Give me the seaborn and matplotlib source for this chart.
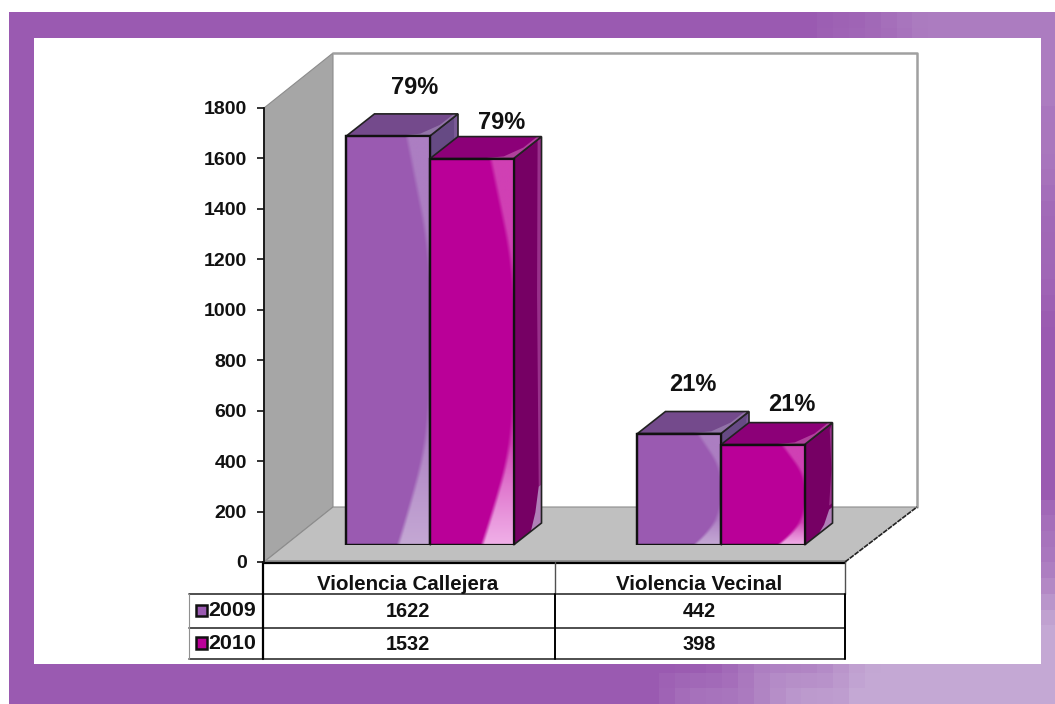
import numpy as np
import pandas as pd
import matplotlib
matplotlib.use('Agg')
import matplotlib.pyplot as plt
from matplotlib.colors import to_rgb
from matplotlib.patches import Polygon, Rectangle
import seaborn as sns

# Data
categories = ['Violencia Callejera', 'Violencia Vecinal']
years = ['2009', '2010']
values_2009 = [1622, 442]
values_2010 = [1532, 398]
percent_2009 = ['79%', '21%']
percent_2010 = ['79%', '21%']
y_ticks = [0, 200, 400, 600, 800, 1000, 1200, 1400, 1600, 1800]

W, H = 1055, 704
PURPLE = '#9A5AB1'
MAGENTA = '#BA0098'
palette = {'2009': PURPLE, '2010': MAGENTA}
# per series: top face, top highlight, side face, side strip, side tip, swoosh top, swoosh bottom
shades = {
    '2009': ('#744A8C', '#9273A8', '#664A84', '#7A5A96', '#9A80B0', '#AC7EC2', '#C4A8D4'),
    '2010': ('#8C0078', '#B0409C', '#760064', '#98308A', '#B080B8', '#D040B4', '#F0B0E8'),
}

sns.set_theme(style='white')
plt.rcParams['font.family'] = ['Liberation Sans', 'DejaVu Sans']
plt.rcParams['font.weight'] = 'bold'


def px_axes(left, top, right, bottom, **kw):
    return fig.add_axes([left / W, 1 - bottom / H, (right - left) / W, (bottom - top) / H], **kw)


fig = plt.figure(figsize=(W / 100, H / 100), dpi=100, facecolor='white')

# Backdrop in pixel coordinates
bg = px_axes(0, 0, W, H)
bg.set_xlim(0, W)
bg.set_ylim(H, 0)
bg.axis('off')

# Pixelated slide frame
xs = np.arange(9, W, 16) + 8.0
ys = np.arange(12, H, 16) + 8.0
gx, gy = np.meshgrid(xs, ys)
w_top = np.clip((gx - 820) / 120, 0, 1) * np.clip((350 - gy) / 250, 0, 1)
w_bot = np.clip((gx - 700 + np.clip(gy - 664, 0, 40) * 1.2) / 210, 0, 1) * np.clip((gy - 500) / 150, 0, 1)
jitter = np.sin(gx * 12.9 + gy * 78.2) * 0.07
w_top = np.where((w_top > 0) & (w_top < 1), np.clip(w_top + jitter, 0, 1), w_top)
w_bot = np.where((w_bot > 0) & (w_bot < 1), np.clip(w_bot + jitter, 0, 1), w_bot)
base = np.array(to_rgb(PURPLE))
frame = base + w_top[..., None] * (np.array(to_rgb('#AC7CC0')) - base)
frame = frame + w_bot[..., None] * (np.array(to_rgb('#C4A8D4')) - frame)
bg.imshow(frame, extent=(9, W, H, 12), aspect='auto', interpolation='nearest', zorder=0)
bg.set_xlim(0, W)
bg.set_ylim(H, 0)
bg.add_patch(Rectangle((34, 38), 1007, 626, facecolor='white', edgecolor='none', zorder=1))

# Walls and floor
bg.add_patch(Polygon([(264, 108), (333, 53), (333, 507), (264, 562)], facecolor='#A6A6A6', edgecolor='#8C8C8C', lw=0.8, zorder=2))
bg.add_patch(Polygon([(264, 562), (333, 507), (917, 507), (845, 562)], facecolor='#C0C0C0', edgecolor='none', zorder=2))
bg.plot([333, 917, 917], [53, 53, 507], color='#A0A0A0', lw=1.8, zorder=2)
bg.plot([264, 333, 917], [562, 507, 507], color='#8C8C8C', lw=0.8, zorder=2)
bg.plot([264, 845], [560.5, 560.5], color='#8C8C8C', lw=2, zorder=3)
bg.plot([845, 917], [562, 507], color='#222222', lw=1.2, ls=(0, (3, 0.6)), zorder=3)

# Table under the chart
col_edges = [263, 555, 845]
row_edges = [562.5, 594, 628, 659]
bg.plot([263, 845], [row_edges[0]] * 2, color='black', lw=1.6, zorder=4)
for y in row_edges[1:]:
    bg.plot([189, 845], [y, y], color='#303030', lw=1.2, zorder=4)
bg.plot([263, 263], [562, 659], color='black', lw=1.6, zorder=4)
bg.plot([555, 555], [562, 594], color='#505050', lw=1.0, zorder=4)
bg.plot([555, 555], [594, 659], color='black', lw=1.4, zorder=4)
bg.plot([845, 845], [562, 594], color='#505050', lw=1.0, zorder=4)
bg.plot([845, 845], [594, 659], color='black', lw=1.4, zorder=4)
bg.plot([189, 189], [594, 659], color='#909090', lw=0.8, zorder=4)

table_rows = [values_2009, values_2010]
row_text_y = [611.5, 644]
col_mid = [(col_edges[i] + col_edges[i + 1]) / 2 - 1 for i in range(2)]
for i, cat in enumerate(categories):
    bg.text(col_mid[i], 584, cat, ha='center', va='center', fontsize=14.8, fontweight='bold', color='#111111', zorder=5)
    for r, row in enumerate(table_rows):
        bg.text(col_mid[i], row_text_y[r], str(row[i]), ha='center', va='center', fontsize=14.3, fontweight='bold', color='#111111', zorder=5)
for r, year in enumerate(years):
    bg.text(208.5, row_text_y[r] - 0.5, year, ha='left', va='center', fontsize=15.4, fontweight='bold', color='#111111', zorder=5)
    bg.add_patch(Rectangle((195.5, row_text_y[r] - 7), 11.5, 11.5, facecolor=palette[year], edgecolor='#111111', lw=1.8, zorder=5))

# Value axis on the front plane
ax_front = px_axes(264, 108, 845, 562)
ax_front.patch.set_alpha(0)
ax_front.set_xlim(0, 1)
ax_front.set_ylim(0, 1800)
ax_front.set_yticks(y_ticks)
ax_front.set_xticks([])
for side in ['top', 'right', 'bottom']:
    ax_front.spines[side].set_visible(False)
ax_front.spines['left'].set_color('#111111')
ax_front.spines['left'].set_linewidth(1.3)
ax_front.tick_params(axis='y', left=True, length=5, width=1.2, color='#111111', pad=7.5, labelsize=14, labelcolor='#111111')
for lab in ax_front.get_yticklabels():
    lab.set_fontweight('bold')

# Bars, on a plane set back from the front of the box
df = pd.DataFrame({
    'Categoria': categories * 2,
    'Ano': [years[0]] * 2 + [years[1]] * 2,
    'Casos': values_2009 + values_2010,
})
ax = px_axes(284.5, 91, 866.5, 545)
ax.patch.set_alpha(0)
sns.barplot(data=df, x='Categoria', y='Casos', hue='Ano', hue_order=years, order=categories,
            palette=palette, width=0.574, saturation=1, edgecolor='#111111', linewidth=1.6,
            legend=False, ax=ax)
ax.set_xlim(-0.5, 1.5)
ax.set_ylim(0, 1800)
ax.axis('off')

depth_x = 28 / 291.0
depth_y = 22 / 0.2522

tall_knots = ([0, 0.12, 0.26, 0.5, 0.72, 1.0], [0.60, 0.78, 0.95, 0.99, 0.97, 0.70])
short_knots = ([0, 0.12, 0.28, 0.5, 0.72, 1.0], [0.66, 0.84, 0.96, 1.0, 0.95, 0.70])

labels = percent_2009 + percent_2010
label_offsets = [(26, 48), (14, 49), (30, 36), (29, 40)]  # pixels from the top centre

bars = list(ax.patches)
for n, bar in enumerate(bars):
    year = years[n // 2]
    c_top, c_top_hi, c_side, c_strip, c_tip, sw_top, sw_bot = shades[year]
    z = 2 if year == '2009' else 5
    x0 = bar.get_x()
    x1 = x0 + bar.get_width()
    h = bar.get_height()
    tall = h > 1000

    def side_pt(u, v):
        return (x1 + u * depth_x, v * h + u * depth_y)

    def top_pt(s, u):
        return (x0 + s * (x1 - x0) + u * depth_x, h + u * depth_y)

    # side face with its light strip
    ax.add_patch(Polygon([side_pt(0, 0), side_pt(1, 0), side_pt(1, 1), side_pt(0, 1)],
                         facecolor=c_side, edgecolor='none', zorder=z, clip_on=False))
    if tall:
        strip = [(0.86, 1), (1, 1), (1, 0.1), (0.9, 0.1), (0.84, 0.6)]
        tip = [(0.62, 0), (1, 0), (1, 0.1), (0.9, 0.1), (0.78, 0.04)]
    else:
        strip = [(0.9, 0.95), (1, 1), (1, 0.2), (0.88, 0.2), (0.96, 0.55)]
        tip = [(0.5, 0), (1, 0), (1, 0.16), (0.88, 0.16), (0.7, 0.05)]
    ax.add_patch(Polygon([side_pt(*p) for p in strip], facecolor=c_strip, edgecolor='none', zorder=z, clip_on=False))
    ax.add_patch(Polygon([side_pt(*p) for p in tip], facecolor=c_tip, edgecolor='none', zorder=z, clip_on=False))
    ax.add_patch(Polygon([side_pt(0, 0), side_pt(1, 0), side_pt(1, 1), side_pt(0, 1)],
                         facecolor='none', edgecolor='#222222', lw=1.2, zorder=z + 0.1, clip_on=False))

    # top face with its highlight
    ax.add_patch(Polygon([top_pt(0, 0), top_pt(1, 0), top_pt(1, 1), top_pt(0, 1)],
                         facecolor=c_top, edgecolor='none', zorder=z + 0.2, clip_on=False))
    ax.add_patch(Polygon([top_pt(0.6, 0), top_pt(1, 0), top_pt(1, 1), top_pt(0.95, 1),
                          top_pt(0.95, 0.5), top_pt(0.85, 0.1)],
                         facecolor=c_top_hi, edgecolor='none', zorder=z + 0.2, clip_on=False))
    ax.add_patch(Polygon([top_pt(0, 0), top_pt(1, 0), top_pt(1, 1), top_pt(0, 1)],
                         facecolor='none', edgecolor='#222222', lw=1.2, zorder=z + 0.3, clip_on=False))

    # front face, the light swoosh follows a smoothed curve
    bar.set_zorder(z + 0.4)
    knots = tall_knots if tall else short_knots
    reach = 0.26 if tall else 0.22
    v = np.linspace(0, 1, 300)
    u = np.linspace(0, 1, 120)[None, :]
    edge = np.interp(v, knots[0], knots[1])
    edge = np.convolve(np.pad(edge, 30, mode='reflect', reflect_type='odd'), np.ones(61) / 61, mode='valid')[:, None]
    alpha = np.clip((u - edge) / 0.05, 0, 1)
    t = (np.clip((reach - v) / reach, 0, 1) ** 0.8)[:, None]
    rgba = np.zeros((300, 120, 4))
    for k in range(3):
        rgba[..., k] = to_rgb(sw_top)[k] + t * (to_rgb(sw_bot)[k] - to_rgb(sw_top)[k])
    rgba[..., 3] = alpha
    im = ax.imshow(rgba, origin='lower', extent=(x0, x1, 0, h), aspect='auto', zorder=z + 0.5, interpolation='bilinear')
    im.set_clip_path(bar)
    ax.add_patch(Rectangle((x0, 0), x1 - x0, h, facecolor='none', edgecolor='#111111', lw=1.6, zorder=z + 0.6))

    dx, dy = label_offsets[n]
    ax.annotate(labels[n], ((x0 + x1) / 2, h), xytext=(dx * 0.72, dy * 0.72), textcoords='offset points',
                ha='center', va='center', fontsize=17, fontweight='bold', color='#111111',
                annotation_clip=False, zorder=20)

ax.set_xlim(-0.5, 1.5)
ax.set_ylim(0, 1800)

fig.savefig('out.png', dpi=100)
